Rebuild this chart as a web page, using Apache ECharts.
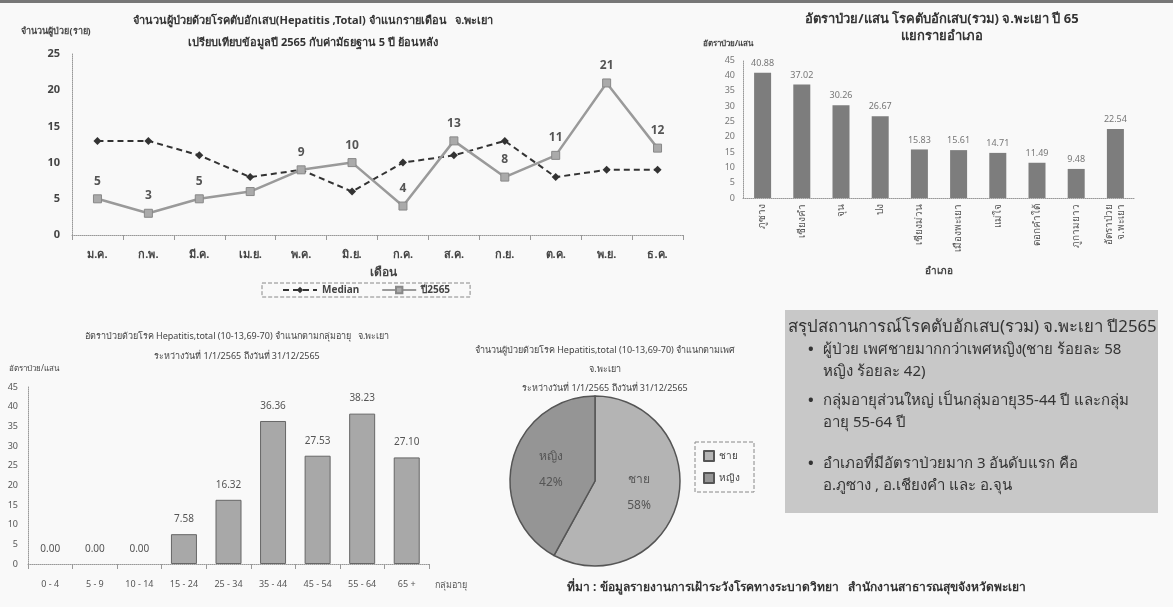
<!DOCTYPE html>
<html><head><meta charset="utf-8">
<script src="https://cdn.jsdelivr.net/npm/echarts@6/dist/echarts.min.js"></script>
<style>html,body{margin:0;padding:0;background:#f9f9f9}#c{width:1173px;height:607px}</style>
</head><body><div id="c"></div>
<script>
// ---- data ----
const months = ['ม.ค.','ก.พ.','มี.ค.','เม.ย.','พ.ค.','มิ.ย.','ก.ค.','ส.ค.','ก.ย.','ต.ค.','พ.ย.','ธ.ค.'];
const median5y = [13, 13, 11, 8, 9, 6, 10, 11, 13, 8, 9, 9];
const cases2565 = [5, 3, 5, 6, 9, 10, 4, 13, 8, 11, 21, 12];
const monthTicks = [0, 5, 10, 15, 20, 25];

const districts = ['ภูซาง','เชียงคำ','จุน','ปง','เชียงม่วน','เมืองพะเยา','แม่ใจ','ดอกคำใต้','ภูกามยาว','อัตราป่วย\nจ.พะเยา'];
const districtRate = [40.88, 37.02, 30.26, 26.67, 15.83, 15.61, 14.71, 11.49, 9.48, 22.54];

const ageGroups = ['0 - 4','5 - 9','10 - 14','15 - 24','25 - 34','35 - 44','45 - 54','55 - 64','65 +'];
const ageRate = [0.00, 0.00, 0.00, 7.58, 16.32, 36.36, 27.53, 38.23, 27.10];

const sexNames = ['ชาย','หญิง'];
const sexPct = [58, 42];

const summaryTitle = 'สรุปสถานการณ์โรคตับอักเสบ(รวม) จ.พะเยา ปี2565';
const summaryLines = [
  ['ผู้ป่วย เพศชายมากกว่าเพศหญิง(ชาย ร้อยละ 58', 'หญิง ร้อยละ 42)'],
  ['กลุ่มอายุส่วนใหญ่ เป็นกลุ่มอายุ35-44 ปี และกลุ่ม', 'อายุ 55-64 ปี'],
  ['อำเภอที่มีอัตราป่วยมาก 3 อันดับแรก คือ', 'อ.ภูซาง , อ.เชียงคำ และ อ.จุน']
];
const sourceText = 'ที่มา : ข้อมูลรายงานการเฝ้าระวังโรคทางระบาดวิทยา   สำนักงานสาธารณสุขจังหวัดพะเยา';

// ---- chart ----
const FF = 'Tahoma, "Noto Sans", "DejaVu Sans", sans-serif';
const chart = echarts.init(document.getElementById('c'));
const dotAxis = {lineStyle:{color:'#999', type:'dotted', width:1}};

const summaryGraphics = [];
summaryGraphics.push({type:'rect', left:785, top:310, shape:{width:373, height:203}, style:{fill:'#c8c8c8'}});
summaryGraphics.push({type:'text', left:788, top:319, style:{text:summaryTitle, font:'16.8px '+FF, fill:'#333'}});
const blockTops = [342, 393, 456];
summaryLines.forEach((ls, i) => {
  summaryGraphics.push({type:'text', left:808, top:blockTops[i], style:{text:'•', font:'bold 15px '+FF, fill:'#333'}});
  ls.forEach((t, j) => {
    summaryGraphics.push({type:'text', left:823, top:blockTops[i] + j*22, style:{text:t, font:'15px '+FF, fill:'#333'}});
  });
});

chart.setOption({
  backgroundColor:'#f9f9f9',
  animation:false,
  textStyle:{fontFamily:FF},
  title:[
    {text:'จำนวนผู้ป่วยด้วยโรคตับอักเสบ(Hepatitis ,Total) จำแนกรายเดือน   จ.พะเยา\nเปรียบเทียบข้อมูลปี 2565 กับค่ามัธยฐาน 5 ปี ย้อนหลัง',
     left:308, top:5, textAlign:'center',
     textStyle:{fontSize:11, fontWeight:'bold', color:'#333', lineHeight:22, align:'center'}},
    {text:'อัตราป่วย/แสน โรคตับอักเสบ(รวม) จ.พะเยา ปี 65\nแยกรายอำเภอ',
     left:937, top:6, textAlign:'center',
     textStyle:{fontSize:13, fontWeight:'bold', color:'#333', lineHeight:17, align:'center'}},
    {text:'อัตราป่วยด้วยโรค Hepatitis,total (10-13,69-70) จำแนกตามกลุ่มอายุ   จ.พะเยา\nระหว่างวันที่ 1/1/2565 ถึงวันที่ 31/12/2565',
     left:232, top:321, textAlign:'center',
     textStyle:{fontSize:9, fontWeight:'normal', color:'#444', lineHeight:20, align:'center'}},
    {text:'จำนวนผู้ป่วยด้วยโรค Hepatitis,total (10-13,69-70) จำแนกตามเพศ\nจ.พะเยา\nระหว่างวันที่ 1/1/2565 ถึงวันที่ 31/12/2565',
     left:600, top:336, textAlign:'center',
     textStyle:{fontSize:9, fontWeight:'normal', color:'#444', lineHeight:19, align:'center'}}
  ],
  legend:[
    {data:['Median','ปี2565'], left:262, top:283, width:178, height:15, padding:[2,20,2,20],
     borderColor:'#888', borderWidth:1, borderType:'dashed', itemGap:22, itemWidth:34, itemHeight:8,
     textStyle:{fontSize:10, fontWeight:'bold', color:'#444'}},
    {data:sexNames, left:695, top:442, orient:'vertical', padding:[8,14,8,8], itemGap:10,
     borderColor:'#888', borderWidth:1, borderType:'dashed', icon:'rect', itemWidth:10, itemHeight:10,
     textStyle:{fontSize:10, color:'#444'}}
  ],
  grid:[
    {left:72, top:54, width:611, height:181},
    {left:743, top:60, width:392, height:138},
    {left:28, top:387, width:401, height:177}
  ],
  xAxis:[
    {gridIndex:0, type:'category', data:months, axisLine:dotAxis, axisTick:{show:true, lineStyle:{color:'#999'}},
     axisLabel:{fontSize:11, fontWeight:'bold', color:'#444', margin:14},
     name:'เดือน', nameLocation:'middle', nameGap:32, nameTextStyle:{fontSize:12, fontWeight:'bold', color:'#444', padding:[0,0,0,12]}},
    {gridIndex:1, type:'category', data:districts, axisLine:dotAxis, axisTick:{show:false},
     axisLabel:{rotate:90, fontSize:10, color:'#555', margin:6, lineHeight:12},
     name:'อำเภอ', nameLocation:'middle', nameGap:68, nameTextStyle:{fontSize:10, fontWeight:'bold', color:'#444'}},
    {gridIndex:2, type:'category', data:ageGroups, axisLine:dotAxis, axisTick:{show:true, lineStyle:{color:'#999'}},
     axisLabel:{fontSize:9, color:'#555', margin:16},
     name:'กลุ่มอายุ', nameLocation:'end', nameGap:6, nameTextStyle:{fontSize:9, color:'#555', verticalAlign:'top', padding:[17,0,0,0]}}
  ],
  yAxis:[
    {gridIndex:0, type:'value', min:0, max:25, interval:5, axisLine:{show:true, ...dotAxis}, axisTick:{show:false}, splitLine:{show:false},
     axisLabel:{fontSize:11, fontWeight:'bold', color:'#444', margin:12},
     name:'จำนวนผู้ป่วย(ราย)', nameLocation:'end', nameGap:18, nameTextStyle:{fontSize:9, fontWeight:'bold', color:'#444', align:'center', padding:[0,0,0,-32]}},
    {gridIndex:1, type:'value', min:0, max:45, interval:5, axisLine:{show:true, ...dotAxis}, axisTick:{show:false}, splitLine:{show:false},
     axisLabel:{fontSize:9, color:'#777', margin:8},
     name:'อัตราป่วย/แสน', nameLocation:'end', nameGap:12, nameTextStyle:{fontSize:8, fontWeight:'bold', color:'#444', padding:[0,0,0,-30]}},
    {gridIndex:2, type:'value', min:0, max:45, interval:5, axisLine:{show:true, ...dotAxis}, axisTick:{show:false}, splitLine:{show:false},
     axisLabel:{fontSize:9, color:'#555', margin:10},
     name:'อัตราป่วย/แสน', nameLocation:'end', nameGap:14, nameTextStyle:{fontSize:8, color:'#444', padding:[0,0,0,12]}}
  ],
  series:[
    {name:'Median', type:'line', xAxisIndex:0, yAxisIndex:0, data:median5y,
     lineStyle:{color:'#333', width:2, type:[6,4]}, itemStyle:{color:'#333'}, symbol:'diamond', symbolSize:8},
    {name:'ปี2565', type:'line', xAxisIndex:0, yAxisIndex:0,
     data:cases2565.map((v,i)=> i===3 ? {value:v, label:{show:false}} : v),
     lineStyle:{color:'#9a9a9a', width:2.5}, itemStyle:{color:'#aaa', borderColor:'#888', borderWidth:1}, symbol:'rect', symbolSize:8,
     label:{show:true, position:'top', distance:7, fontSize:12, fontWeight:'bold', color:'#555'}},
    {name:'district', type:'bar', xAxisIndex:1, yAxisIndex:1, data:districtRate, barWidth:17,
     itemStyle:{color:'#7d7d7d'},
     label:{show:true, position:'top', fontSize:9, color:'#777', formatter:p=>p.value.toFixed(2)}},
    {name:'age', type:'bar', xAxisIndex:2, yAxisIndex:2,
     data:ageRate.map(v => v > 0 ? v : {value:v, itemStyle:{borderWidth:0}}), barWidth:26,
     itemStyle:{color:'#a8a8a8', borderColor:'#666', borderWidth:1},
     label:{show:true, position:'top', distance:10, fontSize:10, color:'#555', formatter:p=>Number(p.value).toFixed(2)}},
    {name:'sex', type:'pie', center:[595,481], radius:85, startAngle:90, clockwise:true,
     data:sexNames.map((n,i)=>({name:n, value:sexPct[i]})),
     color:['#b4b4b4','#959595'],
     itemStyle:{borderColor:'#555', borderWidth:1.5},
     label:{show:true, position:'inside', formatter:'{b}\n{d}%', fontSize:12, color:'#555', lineHeight:26},
     labelLine:{show:false}}
  ],
  graphic:[
    {type:'rect', left:0, top:0, shape:{width:1173, height:3}, style:{fill:'#777'}},
    ...summaryGraphics,
    {type:'text', left:567, top:582, style:{text:sourceText, font:'bold 12px '+FF, fill:'#333'}}
  ]
});
</script></body></html>
